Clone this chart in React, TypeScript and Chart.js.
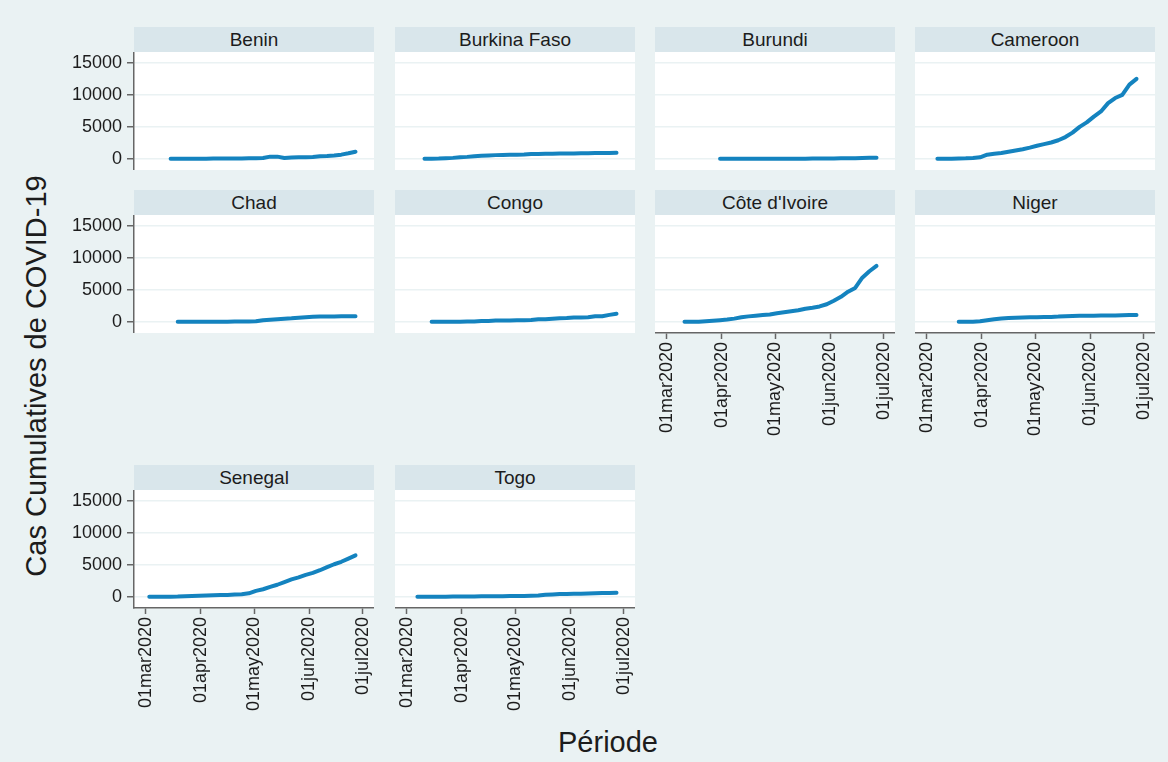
import React, { useEffect, useRef } from "react";
import { Chart, registerables } from "chart.js";

Chart.register(...registerables);

// ---------- data ----------
// days since 01 Mar 2020
const days = [2, 6, 10, 14, 18, 22, 26, 30, 34, 38, 42, 46, 50, 54, 58, 62, 66, 70, 74, 78, 82, 86, 90, 94, 98, 102, 106, 110, 114, 118];

const tickDays = [0, 31, 61, 92, 122];
const tickLabels = ["01mar2020", "01apr2020", "01may2020", "01jun2020", "01jul2020"];
const yTicks = [0, 5000, 10000, 15000];

const countries = ["Benin", "Burkina Faso", "Burundi", "Cameroon", "Chad", "Congo", "Côte d'Ivoire", "Niger", "Senegal", "Togo"];

const benin = [null, null, null, 1, 2, 6, 13, 16, 22, 35, 35, 54, 64, 64, 90, 96, 140, 339, 339, 135, 191, 244, 261, 288, 402, 442, 532, 650, 860, 1100];
const burkinaFaso = [null, null, 2, 15, 40, 99, 146, 246, 302, 414, 484, 528, 576, 600, 629, 649, 662, 748, 766, 782, 796, 812, 841, 847, 883, 888, 894, 899, 903, 934];
const burundi = [null, null, null, null, null, null, null, 2, 3, 3, 5, 5, 11, 11, 15, 15, 19, 19, 27, 27, 42, 42, 63, 63, 83, 104, 104, 144, 170, 170];
const cameroon = [null, 1, 2, 10, 40, 75, 139, 233, 650, 800, 900, 1100, 1300, 1500, 1750, 2050, 2300, 2550, 2900, 3400, 4100, 5000, 5700, 6600, 7400, 8700, 9500, 10000, 11600, 12500];
const chad = [null, null, null, null, 1, 1, 5, 7, 9, 10, 18, 23, 33, 46, 52, 73, 253, 322, 399, 474, 545, 647, 719, 778, 814, 836, 848, 853, 858, 866];
const congo = [null, null, null, 1, 3, 4, 14, 19, 45, 60, 117, 143, 186, 200, 207, 229, 236, 274, 391, 391, 487, 571, 611, 683, 683, 728, 883, 883, 1087, 1245];
const coteDIvoire = [null, null, 1, 5, 9, 100, 180, 260, 350, 500, 700, 850, 950, 1050, 1150, 1350, 1500, 1650, 1800, 2050, 2200, 2400, 2750, 3300, 3900, 4700, 5300, 6900, 7900, 8750];
const niger = [null, null, null, null, 1, 2, 10, 74, 253, 410, 529, 609, 648, 671, 696, 719, 750, 770, 815, 885, 904, 946, 956, 963, 973, 980, 990, 1020, 1059, 1075];
const senegal = [1, 4, 4, 24, 38, 99, 130, 175, 222, 244, 265, 291, 350, 412, 545, 933, 1182, 1551, 1886, 2310, 2714, 3047, 3429, 3739, 4155, 4640, 5090, 5475, 5970, 6480];
const togo = [null, 1, 1, 9, 17, 25, 30, 36, 44, 58, 76, 81, 88, 96, 116, 123, 128, 181, 199, 307, 365, 433, 442, 465, 497, 515, 552, 576, 597, 617];

const seriesValues = [benin, burkinaFaso, burundi, cameroon, chad, congo, coteDIvoire, niger, senegal, togo];

// ---------- styling / layout ----------
const FONT = "'Liberation Sans', Arial, Helvetica, sans-serif";
const BG = "#eaf2f3";
const STRIP = "#d9e6eb";
const LINE = "#1483bf";
const TEXT = "#1c1c1c";
const AXIS = "#666666";

const X_MIN = -6.6;
const X_MAX = 128.4;
const Y_MIN = -1750;
const Y_MAX = 16700;

const COL_X = [134, 395, 655, 915];
const ROW_Y = [27, 190, 465];
const PANEL_W = 240;
const STRIP_H = 25;
const PLOT_H = 118;
const Y_AXIS_W = 80;
const X_AXIS_H = 110;

const grid = [
  { col: 0, row: 0, showY: true, showX: false },
  { col: 1, row: 0, showY: false, showX: false },
  { col: 2, row: 0, showY: false, showX: false },
  { col: 3, row: 0, showY: false, showX: false },
  { col: 0, row: 1, showY: true, showX: false },
  { col: 1, row: 1, showY: false, showX: false },
  { col: 2, row: 1, showY: false, showX: true },
  { col: 3, row: 1, showY: false, showX: true },
  { col: 0, row: 2, showY: true, showX: true },
  { col: 1, row: 2, showY: false, showX: true },
];

const plotBg = {
  id: "plotBg",
  beforeDraw(chart: any) {
    const { ctx, chartArea: a } = chart;
    ctx.save();
    ctx.fillStyle = "#ffffff";
    ctx.fillRect(a.left, a.top, a.right - a.left, a.bottom - a.top);
    ctx.restore();
  },
};

function zeroPad(s: any) {
  s.paddingLeft = 0;
  s.paddingRight = 0;
  s.paddingTop = 0;
  s.paddingBottom = 0;
}

function Panel({ idx }: { idx: number }) {
  const ref = useRef<HTMLCanvasElement | null>(null);
  const g = grid[idx];
  const w = PANEL_W + (g.showY ? Y_AXIS_W : 0);
  const h = PLOT_H + (g.showX ? X_AXIS_H : 0);
  const left = COL_X[g.col] - (g.showY ? Y_AXIS_W : 0);
  const top = ROW_Y[g.row] + STRIP_H;

  useEffect(() => {
    if (!ref.current) return;
    const vals = seriesValues[idx];
    const pts = days
      .map((d, i) => ({ x: d, y: vals[i] }))
      .filter((p) => p.y !== null);
    const chart = new Chart(ref.current, {
      type: "line",
      data: {
        datasets: [
          {
            label: countries[idx],
            data: pts as any,
            borderColor: LINE,
            backgroundColor: LINE,
            borderWidth: 4,
            pointRadius: 0,
            tension: 0,
            borderCapStyle: "round",
            borderJoinStyle: "round",
          },
        ],
      },
      options: {
        responsive: false,
        animation: false,
        events: [],
        layout: { padding: 0, autoPadding: false } as any,
        plugins: { legend: { display: false }, tooltip: { enabled: false }, title: { display: false } },
        scales: {
          x: {
            type: "linear",
            min: X_MIN,
            max: X_MAX,
            afterBuildTicks: (s: any) => {
              s.ticks = tickDays.map((v) => ({ value: v }));
            },
            afterFit: (s: any) => {
              s.height = g.showX ? X_AXIS_H : 0;
              zeroPad(s);
            },
            grid: {
              display: g.showX,
              drawOnChartArea: false,
              drawTicks: true,
              tickLength: 6,
              tickColor: AXIS,
              tickWidth: 1.5,
            },
            border: { display: g.showX, color: AXIS, width: 1.5 },
            ticks: {
              display: g.showX,
              autoSkip: false,
              minRotation: 90,
              maxRotation: 90,
              padding: 3,
              color: TEXT,
              font: { family: FONT, size: 18 },
              callback: (v: any) => {
                const i = tickDays.indexOf(Number(v));
                return i >= 0 ? tickLabels[i] : "";
              },
            },
          },
          y: {
            type: "linear",
            min: Y_MIN,
            max: Y_MAX,
            afterBuildTicks: (s: any) => {
              s.ticks = yTicks.map((v) => ({ value: v }));
            },
            afterFit: (s: any) => {
              s.width = g.showY ? Y_AXIS_W : 0;
              zeroPad(s);
            },
            grid: {
              color: BG,
              lineWidth: 1.5,
              drawTicks: g.showY,
              tickLength: 7,
              tickColor: AXIS,
              tickWidth: 1.5,
            },
            border: { display: g.showY, color: AXIS, width: 1.5 },
            ticks: {
              display: g.showY,
              padding: 5,
              color: TEXT,
              font: { family: FONT, size: 18 },
              callback: (v: any) => String(v),
            },
          },
        },
      },
      plugins: [plotBg],
    });
    return () => chart.destroy();
  }, [idx]);

  return (
    <>
      <div
        style={{
          position: "absolute",
          left: COL_X[g.col],
          top: ROW_Y[g.row],
          width: PANEL_W,
          height: STRIP_H,
          background: STRIP,
          color: TEXT,
          fontFamily: FONT,
          fontSize: 19,
          lineHeight: STRIP_H + "px",
          textAlign: "center",
        }}
      >
        {countries[idx]}
      </div>
      <canvas
        ref={ref}
        width={w}
        height={h}
        style={{ position: "absolute", left, top, width: w, height: h }}
      />
    </>
  );
}

export default function App() {
  return (
    <div
      style={{
        position: "absolute",
        left: 0,
        top: 0,
        width: 1168,
        height: 762,
        background: BG,
        overflow: "hidden",
      }}
    >
      {countries.map((_, i) => (
        <Panel key={i} idx={i} />
      ))}
      <div
        style={{
          position: "absolute",
          left: 36 - 250,
          top: 376 - 16,
          width: 500,
          height: 32,
          lineHeight: "32px",
          transform: "rotate(-90deg)",
          textAlign: "center",
          fontFamily: FONT,
          fontSize: 29,
          color: TEXT,
          whiteSpace: "nowrap",
        }}
      >
        Cas Cumulatives de COVID-19
      </div>
      <div
        style={{
          position: "absolute",
          left: 608 - 150,
          top: 728,
          width: 300,
          height: 29,
          lineHeight: "29px",
          textAlign: "center",
          fontFamily: FONT,
          fontSize: 29,
          color: TEXT,
          whiteSpace: "nowrap",
        }}
      >
        Période
      </div>
    </div>
  );
}
